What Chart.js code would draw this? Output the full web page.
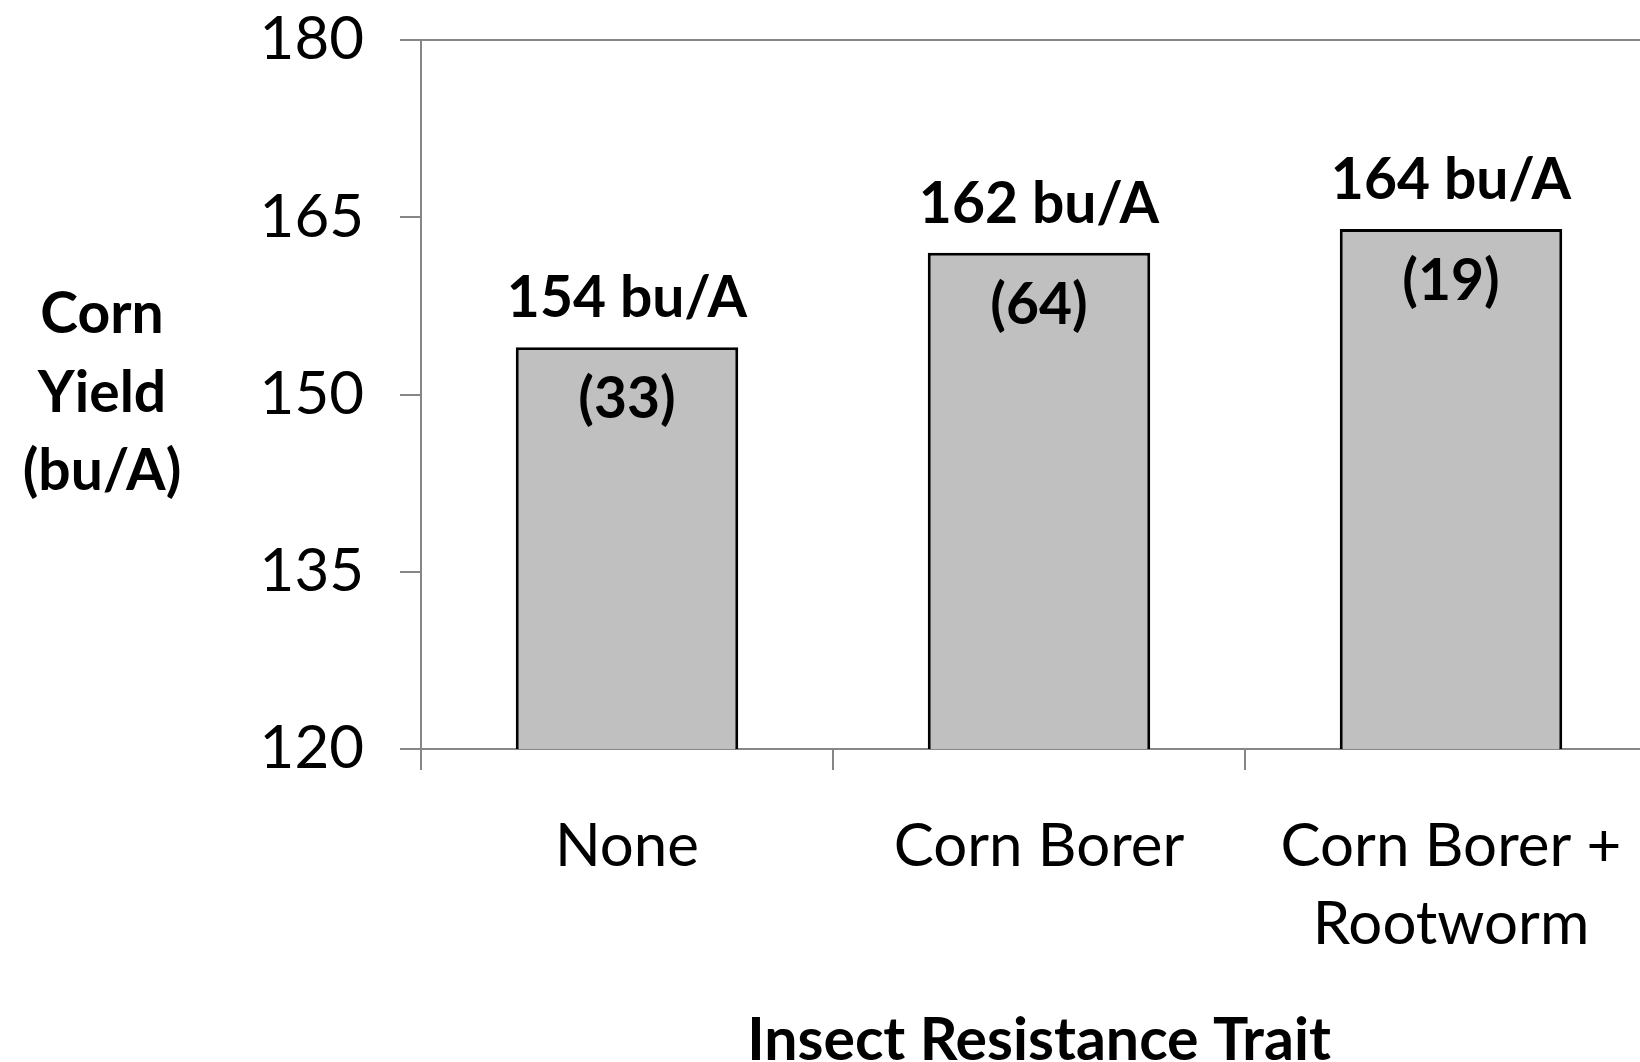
<!DOCTYPE html>
<html>
<head>
<meta charset="utf-8">
<script src="https://cdn.jsdelivr.net/npm/chart.js@4"></script>
<style>
  html, body { margin: 0; padding: 0; background: #fff; overflow: hidden; }
  #wrap { position: absolute; left: 0; top: 0; width: 1680px; height: 1100px; }
</style>
</head>
<body>
<div id="wrap"><canvas id="yieldChart"></canvas></div>
<script>
const categories = ['None', 'Corn Borer', ['Corn Borer +', 'Rootworm']];
const yieldValues = [154, 162, 164];
const fieldCounts = [33, 64, 19];
const yMin = 120, yMax = 180, yStep = 15;
const yTitleLines = ['Corn', 'Yield', '(bu/A)'];
const xTitle = 'Insect Resistance Trait';

const axisGray = '#868686';

// labels above and inside each bar
const barLabels = {
    id: 'barLabels',
    afterDatasetsDraw(chart) {
        const ctx = chart.ctx;
        const meta = chart.getDatasetMeta(0);
        ctx.save();
        ctx.font = 'bold 57px Lato';
        ctx.fillStyle = '#000';
        ctx.textAlign = 'center';
        ctx.textBaseline = 'alphabetic';
        meta.data.forEach((bar, i) => {
            ctx.fillText(yieldValues[i] + ' bu/A', bar.x, bar.y - 30);
            ctx.fillText('(' + fieldCounts[i] + ')', bar.x, bar.y + 71);
        });
        ctx.restore();
    }
};

// horizontal y axis title, three lines
const yTitle = {
    id: 'yTitle',
    afterDraw(chart) {
        const ctx = chart.ctx;
        const mid = (chart.chartArea.top + chart.chartArea.bottom) / 2;
        ctx.save();
        ctx.font = 'bold 57px Lato';
        ctx.fillStyle = '#000';
        ctx.textAlign = 'center';
        ctx.textBaseline = 'alphabetic';
        yTitleLines.forEach((line, i) => {
            ctx.fillText(line, 102, mid - 61.5 + i * 78.5);
        });
        ctx.restore();
    }
};

Chart.defaults.font.family = 'Lato';
Chart.defaults.color = '#000';

new Chart(document.getElementById('yieldChart'), {
    type: 'bar',
    data: {
        labels: categories,
        datasets: [{
            data: yieldValues,
            backgroundColor: '#c0c0c0',
            borderColor: '#000',
            borderWidth: 3,
            categoryPercentage: 1,
            barPercentage: 0.54
        }]
    },
    options: {
        responsive: true,
        maintainAspectRatio: false,
        animation: false,
        layout: { padding: { top: 0, right: 23, left: 0, bottom: 0 } },
        plugins: {
            legend: { display: false },
            tooltip: { enabled: false }
        },
        scales: {
            x: {
                grid: {
                    offset: true,
                    drawOnChartArea: false,
                    color: axisGray,
                    tickLength: 21,
                    lineWidth: 2
                },
                border: { color: axisGray, width: 2 },
                ticks: {
                    font: { size: 60, lineHeight: 1.3 },
                    padding: 38,
                    maxRotation: 0,
                    autoSkip: false
                },
                title: {
                    display: true,
                    text: xTitle,
                    font: { size: 59, weight: 'bold', lineHeight: 1.2 },
                    padding: { top: 0, bottom: 24 }
                },
                afterFit(scale) { scale.height = 351; }
            },
            y: {
                min: yMin,
                max: yMax,
                grid: {
                    color: c => (c.tick && c.tick.value === yMax) ? axisGray : 'rgba(0,0,0,0)',
                    tickColor: axisGray,
                    tickLength: 21,
                    lineWidth: 2
                },
                border: { color: axisGray, width: 2 },
                ticks: {
                    stepSize: yStep,
                    font: { size: 60 },
                    padding: 36
                },
                afterFit(scale) {
                    scale.width = 421;
                    scale.paddingTop = 40;
                    scale.paddingBottom = 0;
                }
            }
        }
    },
    plugins: [barLabels, yTitle]
});
</script>
</body>
</html>
